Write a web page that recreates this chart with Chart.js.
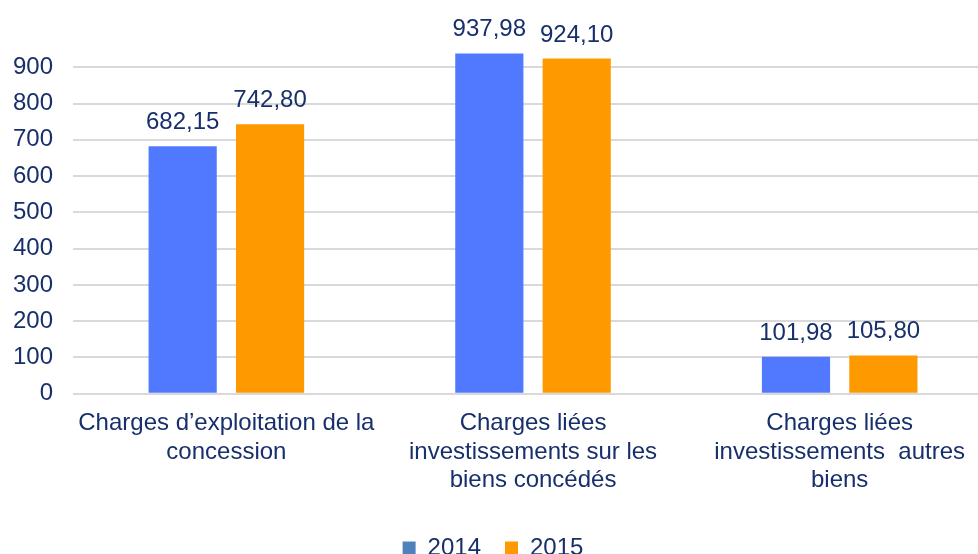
<!DOCTYPE html>
<html>
<head>
<meta charset="utf-8">
<script src="https://cdn.jsdelivr.net/npm/chart.js@4/dist/chart.umd.min.js"></script>
<style>
  html, body { margin: 0; padding: 0; background: #fff; overflow: hidden; }
  #wrap { width: 978px; height: 554px; overflow: hidden; }
</style>
</head>
<body>
<div id="wrap"><canvas id="chart" width="993" height="570"></canvas></div>
<script>
var categories = [
    ["Charges d\u2019exploitation de la", "concession"],
    ["Charges li\u00e9es", "investissements sur les", "biens conc\u00e9d\u00e9s"],
    ["Charges li\u00e9es", "investissements  autres", "biens"]
];
var values2014 = [682.15, 937.98, 101.98];
var values2015 = [742.80, 924.10, 105.80];
var yTicks = [0, 100, 200, 300, 400, 500, 600, 700, 800, 900];

var textColor = "#172f6b";
Chart.defaults.font.family = "'Liberation Sans', Arial, sans-serif";
Chart.defaults.font.size = 24;
Chart.defaults.font.lineHeight = 1.17;
Chart.defaults.color = textColor;

// value labels above each bar, french decimal comma
var valueLabels = {
    id: "valueLabels",
    afterDatasetsDraw: function(chart) {
        var ctx = chart.ctx;
        ctx.save();
        ctx.font = "24px 'Liberation Sans', Arial, sans-serif";
        ctx.fillStyle = textColor;
        ctx.textAlign = "center";
        ctx.textBaseline = "alphabetic";
        chart.data.datasets.forEach(function(ds, i) {
            chart.getDatasetMeta(i).data.forEach(function(bar, j) {
                ctx.fillText(ds.data[j].toFixed(2).replace(".", ","), bar.x, bar.y - 17);
            });
        });
        ctx.restore();
    }
};

var legendColors = ["#4f81bd", "#ff9900"];

new Chart(document.getElementById("chart"), {
    type: "bar",
    data: {
        labels: categories,
        datasets: [{
                label: "2014",
                data: values2014,
                backgroundColor: "#5079ff"
            },
            {
                label: "2015",
                data: values2015,
                backgroundColor: "#ff9900"
            }
        ]
    },
    options: {
        responsive: false,
        animation: false,
        devicePixelRatio: 1,
        categoryPercentage: 0.57,
        barPercentage: 0.78,
        layout: { padding: { left: -7, top: 31, right: 0, bottom: 0 } },
        plugins: {
            tooltip: { enabled: false },
            legend: {
                position: "bottom",
                labels: {
                    boxWidth: 13,
                    boxHeight: 13,
                    padding: 24,
                    generateLabels: function(chart) {
                        return chart.data.datasets.map(function(ds, i) {
                            return {
                                text: ds.label,
                                fillStyle: legendColors[i],
                                strokeStyle: legendColors[i],
                                lineWidth: 0,
                                fontColor: textColor,
                                datasetIndex: i
                            };
                        });
                    }
                }
            }
        },
        scales: {
            x: {
                grid: { display: false },
                border: { display: false },
                ticks: { padding: 8, maxRotation: 0, autoSkip: false },
                afterFit: function(axis) { axis.height += 10; }
            },
            y: {
                min: 0,
                max: 1000,
                afterBuildTicks: function(axis) {
                    axis.ticks = yTicks.map(function(v) { return { value: v }; });
                },
                border: { display: false },
                grid: {
                    drawTicks: false,
                    lineWidth: 2,
                    color: "#d9d9d9"
                },
                ticks: {
                    padding: 20,
                    font: { size: 24, lineHeight: 0.4 }
                }
            }
        }
    },
    plugins: [valueLabels]
});
</script>
</body>
</html>
